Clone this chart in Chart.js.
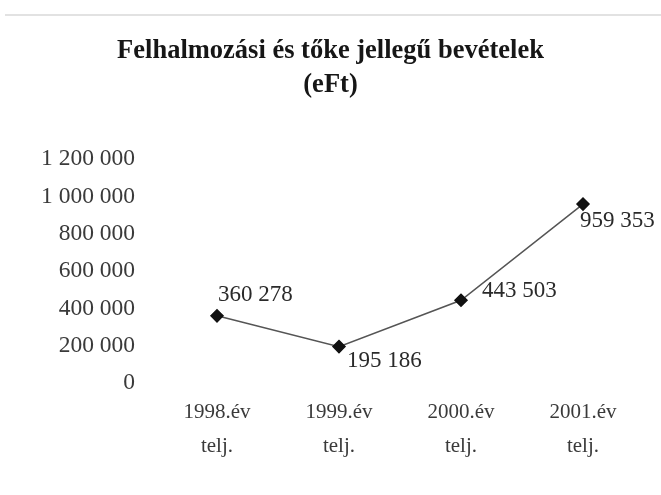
<!DOCTYPE html>
<html>
<head>
<meta charset="utf-8">
<script src="https://cdn.jsdelivr.net/npm/chart.js@4/dist/chart.umd.min.js"></script>
<style>
  html, body { margin: 0; padding: 0; background: #fff; }
  #wrap { width: 661px; height: 495px; }
</style>
</head>
<body>
<div id="wrap"><canvas id="lineChart"></canvas></div>
<script>
const categories = [['1998.év', 'telj.'], ['1999.év', 'telj.'], ['2000.év', 'telj.'], ['2001.év', 'telj.']];
const revenues = [360278, 195186, 443503, 959353];
const yTicks = [0, 200000, 400000, 600000, 800000, 1000000, 1200000];

// label offsets relative to each point: [dx, dy]
const labelOffsets = [[1, -21], [8, 14], [21, -9], [-3, 17]];

const fmt = v => String(v).replace(/\B(?=(\d{3})+(?!\d))/g, ' ');
const serif = '"Liberation Serif", "DejaVu Serif", serif';

const pointLabels = {
  id: 'pointLabels',
  beforeDraw(chart) {
    // faint scan border along the top
    const ctx = chart.ctx;
    ctx.save();
    ctx.strokeStyle = '#e2e2e2';
    ctx.lineWidth = 2;
    ctx.beginPath();
    ctx.moveTo(5, 15);
    ctx.lineTo(chart.width, 15);
    ctx.stroke();
    ctx.restore();
  },
  afterDatasetsDraw(chart) {
    const ctx = chart.ctx;
    const meta = chart.getDatasetMeta(0);
    ctx.save();
    ctx.font = '23px ' + serif;
    ctx.fillStyle = '#2a2a2a';
    ctx.textAlign = 'left';
    ctx.textBaseline = 'middle';
    meta.data.forEach((pt, i) => {
      const [dx, dy] = labelOffsets[i];
      ctx.fillText(fmt(revenues[i]), pt.x + dx, pt.y + dy);
    });
    ctx.restore();
  }
};

new Chart(document.getElementById('lineChart').getContext('2d'), {
  type: 'line',
  data: {
    labels: categories,
    datasets: [{
      data: revenues,
      borderColor: '#555',
      borderWidth: 1.5,
      pointStyle: 'rectRot',
      pointRadius: 6,
      pointBackgroundColor: '#111',
      pointBorderColor: '#111',
      tension: 0
    }]
  },
  options: {
    responsive: true,
    maintainAspectRatio: false,
    animation: false,
    layout: { padding: { left: 17, right: 17, top: 0, bottom: 0 } },
    plugins: {
      legend: { display: false },
      tooltip: { enabled: false },
      title: {
        display: true,
        text: ['Felhalmozási és tőke jellegű bevételek', '(eFt)'],
        color: '#161616',
        font: { family: serif, size: 26.5, weight: 'bold', lineHeight: 1.25 },
        padding: { top: 35, bottom: 58 }
      }
    },
    scales: {
      x: {
        offset: true,
        grid: { display: false, drawTicks: false },
        border: { display: false },
        ticks: {
          color: '#3a3a3a',
          font: { family: serif, size: 21, lineHeight: 1.62 },
          padding: 12,
          maxRotation: 0
        },
        afterFit(scale) { scale.height = 112; }
      },
      y: {
        min: 0,
        max: 1200000,
        grid: { display: false, drawTicks: false },
        border: { display: false },
        afterBuildTicks(scale) { scale.ticks = yTicks.map(v => ({ value: v })); },
        ticks: {
          color: '#3a3a3a',
          font: { family: serif, size: 23.5 },
          padding: 21,
          callback: v => fmt(v)
        },
        afterFit(scale) { scale.width = 139; }
      }
    }
  },
  plugins: [pointLabels]
});
</script>
</body>
</html>
